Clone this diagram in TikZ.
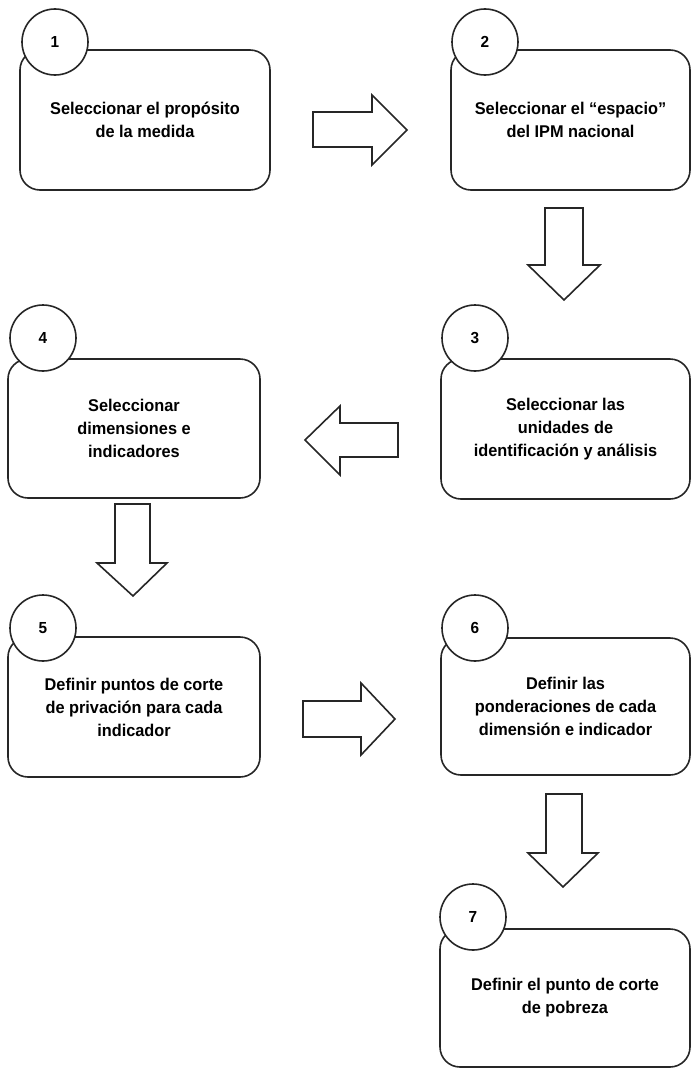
\documentclass[tikz,border=0pt]{standalone}
\usepackage{fontspec}
\setmainfont{Liberation Sans}[FakeStretch=0.96]
\begin{document}
\begin{tikzpicture}[x=1pt,y=-1pt,
  stepbox/.style={draw=black!85, line width=1.6pt, rounded corners=20pt, fill=white,
    align=center, inner sep=0pt, font=\fontsize{17}{23}\selectfont\bfseries},
  numcirc/.style={draw=black!85, line width=1.6pt, circle, fill=white, minimum size=66pt,
    inner sep=0pt, font=\fontsize{16}{18}\selectfont\bfseries},
  blockarrow/.style={draw=black!85, line width=1.6pt, fill=white, line join=miter}]
\useasboundingbox (0,0) rectangle (692,1068);

\node[stepbox, minimum width=250pt, minimum height=140pt] (b1) at (145,120) {Seleccionar el propósito\\de la medida};
\node[numcirc] (c1) at (55,42) {1};

\node[stepbox, minimum width=239pt, minimum height=140pt] (b2) at (570.5,120) {Seleccionar el “espacio”\\del IPM nacional};
\node[numcirc] (c2) at (485,42) {2};

\node[stepbox, minimum width=249pt, minimum height=140pt] (b3) at (565.5,429) {Seleccionar las\\unidades de\\identificación y análisis};
\node[numcirc] (c3) at (475,338) {3};

\node[stepbox, minimum width=252pt, minimum height=139pt] (b4) at (134,428.5) {Seleccionar\\dimensiones e\\indicadores};
\node[numcirc] (c4) at (43,338) {4};

\node[stepbox, minimum width=252pt, minimum height=140pt] (b5) at (134,707) {Definir puntos de corte\\de privación para cada\\indicador};
\node[numcirc] (c5) at (43,628) {5};

\node[stepbox, minimum width=249pt, minimum height=137pt] (b6) at (565.5,706.5) {Definir las\\ponderaciones de cada\\dimensión e indicador};
\node[numcirc] (c6) at (475,628) {6};

\node[stepbox, minimum width=250pt, minimum height=138pt] (b7) at (565,998) {Definir el punto de corte\\de pobreza};
\node[numcirc] (c7) at (473,917) {7};

% block arrows
\draw[blockarrow] (313,112) -- (372,112) -- (372,95) -- (407,130) -- (372,165) -- (372,147) -- (313,147) -- cycle;
\draw[blockarrow] (545,208) -- (583,208) -- (583,265) -- (600,265) -- (564,300) -- (528,265) -- (545,265) -- cycle;
\draw[blockarrow] (398,423) -- (340,423) -- (340,406) -- (305,440) -- (340,475) -- (340,457) -- (398,457) -- cycle;
\draw[blockarrow] (115,504) -- (150,504) -- (150,563) -- (167,563) -- (133,596) -- (97,563) -- (115,563) -- cycle;
\draw[blockarrow] (303,701) -- (361,701) -- (361,683) -- (395,719) -- (361,755) -- (361,737) -- (303,737) -- cycle;
\draw[blockarrow] (546,794) -- (582,794) -- (582,853) -- (598,853) -- (563,887) -- (528,853) -- (546,853) -- cycle;
\end{tikzpicture}
\end{document}
